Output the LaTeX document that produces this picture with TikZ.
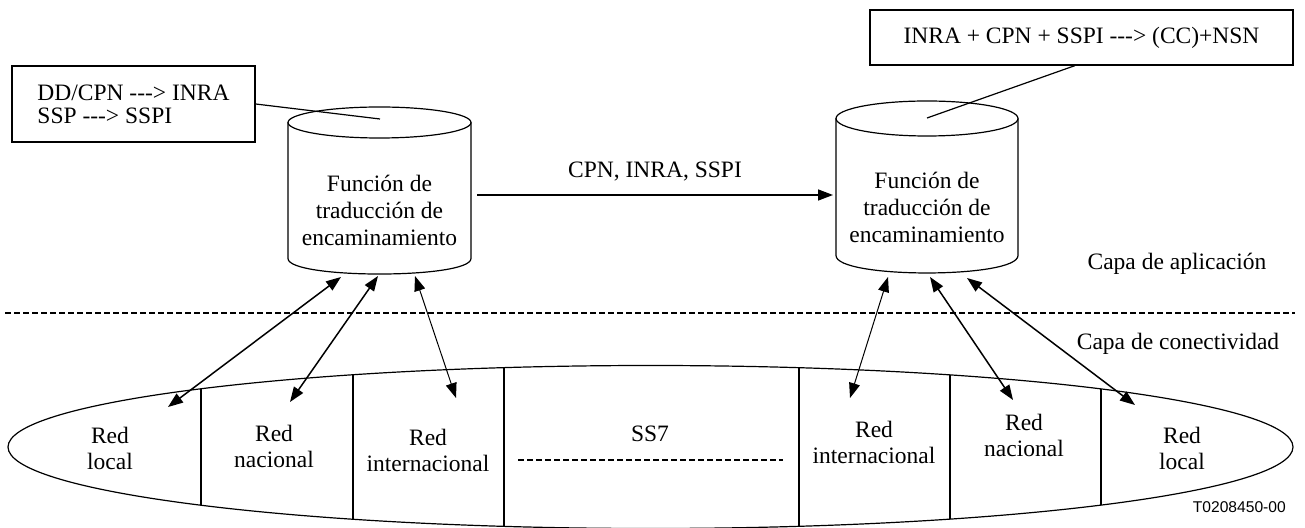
\documentclass[tikz,border=0pt]{standalone}
\usepackage{fontspec}
\setmainfont{Liberation Serif}[Ligatures=TeXOff]
\newfontfamily\tagfont{Liberation Sans}
\usetikzlibrary{arrows.meta,positioning}
\tikzset{
  every picture/.style = {
    x = 0.5pt,
    y = -0.5pt,
    line width = 0.6pt,
    >={Triangle[length=7.5pt,width=5.5pt]},
  }
  ,
  % text inside the databases
  db/.style = {
    font = \fontsize{11.75}{13.5}\selectfont,
    align = center
  }
  , % boxes with translation rules
  rule/.style = {
    rectangle,
    draw,
    font = \fontsize{11.75}{11.5}\selectfont,
    align = left,
    inner sep = 0pt
  }
  , % labels of networks
  net/.style = {
    font = \fontsize{11.75}{13}\selectfont,
    align = center
  }
  ,
  layer/.style = {
    font = \fontsize{11.75}{14}\selectfont
  }
  ,
  link/.style = {
    <->,
    line width = 0.75pt
  }
  ,
  divider/.style = {
    line width = 1pt
  }
  ,
  trunk/.style = {
    dash pattern = on 3pt off 1.5pt
  }
}

\begin{document}
\begin{tikzpicture}
\useasboundingbox (0,0) rectangle (1305,528);

% databases
\draw (379.5,122.5) ellipse [x radius=91.5, y radius=15.5];
\draw (288,122.5) -- (288,258.5) .. controls (288,279.2) and (471,279.2) .. (471,258.5) -- (471,122.5);
\draw (927,118.5) ellipse [x radius=91, y radius=17.5];
\draw (836,118.5) -- (836,255.5) .. controls (836,278.8) and (1018,278.8) .. (1018,255.5) -- (1018,118.5);

\node [db] (fnL) at (379.5,210) {Función de\\traducción de\\encaminamiento};
\node [db] (fnR) at (927,207.5) {Función de\\traducción de\\encaminamiento};

% rules
\node [rule, minimum width=121.5pt, minimum height=38pt] (ruleL) at (133.5,104) {DD/CPN ---> INRA\\SSP ---> SSPI};
\node [rule, minimum width=211.5pt, minimum height=27.5pt] (ruleR) at (1081.5,37.5) {INRA + CPN + SSPI ---> (CC)+NSN};
\coordinate (topL) at (380,119);
\coordinate (topR) at (927,118);
\draw (ruleL.east) -- (topL);
\draw ([xshift=-3.25pt]ruleR.south) -- (topR);

% application link
\coordinate (outL) at (477,195);
\coordinate (inR) at (833,195);
\draw [->, line width=0.75pt] (outL) -- node [db, above=3pt] (msg) {CPN, INRA, SSPI} (inR);

% layers
\draw [trunk] (5,313) -- (1295,313);
\node [layer] (app) at (1177,264) {Capa de aplicación};
\node [layer] (con) at (1178,344) {Capa de conectividad};

% signalling network
\draw (650.5,447) ellipse [x radius=642.5, y radius=81.5];
\begin{scope}
  \clip (650.5,447) ellipse [x radius=642.5, y radius=81.5];
  \foreach \x in {201,353,504,799,950,1101}
    \draw [divider] (\x,360) -- (\x,540);
\end{scope}

\node [net] (locL) at (110,448) {Red\\local};
\node [net] (nacL) at (274,446) {Red\\nacional};
\node [net] (intL) at (428,450) {Red\\internacional};
\node [net] (ss7) at (650,434) {SS7};
\node [net] (intR) at (874,442) {Red\\internacional};
\node [net] (nacR) at (1024,435) {Red\\nacional};
\node [net] (locR) at (1182,448) {Red\\local};

\coordinate (ssA) at (518,460);
\coordinate (ssB) at (783,460);
\draw [trunk] (ssA) -- (ssB);

% links between layers
\coordinate (dbL1) at (341,277);
\coordinate (dbL2) at (378,276);
\coordinate (dbL3) at (415,276);
\coordinate (nwL1) at (168,407);
\coordinate (nwL2) at (290,402);
\coordinate (nwL3) at (456,398);
\coordinate (dbR1) at (888,277);
\coordinate (dbR2) at (930,277);
\coordinate (dbR3) at (967,278);
\coordinate (nwR1) at (850,398);
\coordinate (nwR2) at (1013,400);
\coordinate (nwR3) at (1135,405);

\draw [link] (dbL1) -- (nwL1);
\draw [link] (dbL2) -- (nwL2);
\draw [link, line width=0.5pt] (dbL3) -- (nwL3);
\draw [link, line width=0.5pt] (dbR1) -- (nwR1);
\draw [link] (dbR2) -- (nwR2);
\draw [link] (dbR3) -- (nwR3);

\node [anchor=base east, font=\tagfont\fontsize{7.8}{9}\selectfont] (tag) at (1293,512) {T0208450-00};
\end{tikzpicture}
\end{document}
